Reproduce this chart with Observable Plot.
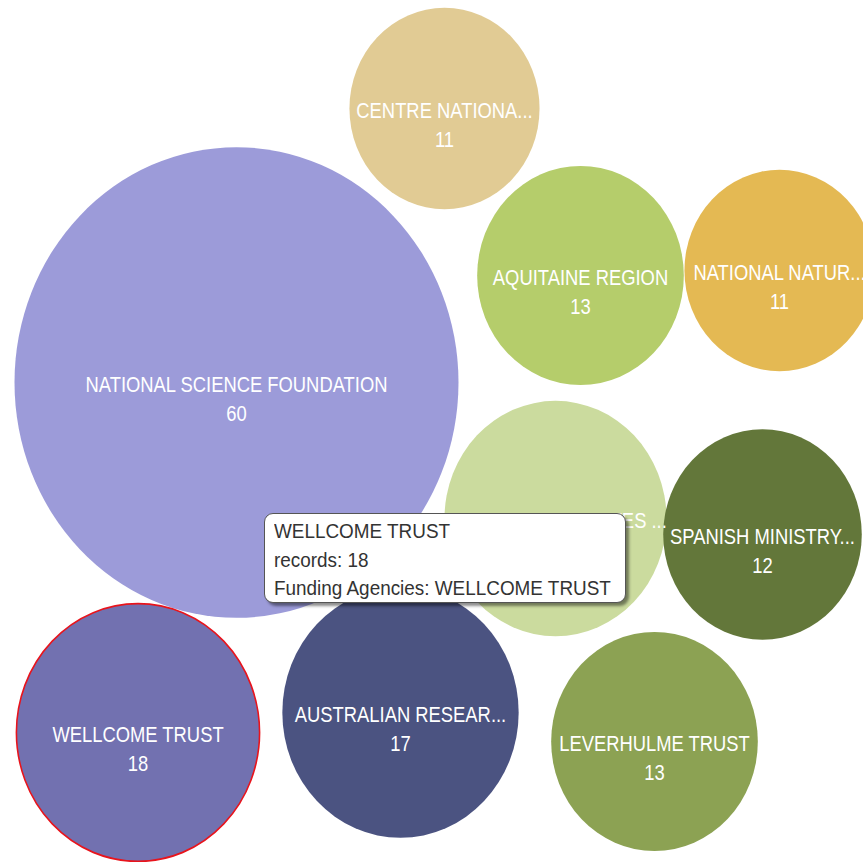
<!DOCTYPE html>
<html>
<head>
<meta charset="utf-8">
<script src="https://cdn.jsdelivr.net/npm/d3@7"></script>
<script src="https://cdn.jsdelivr.net/npm/@observablehq/plot@0.6"></script>
<style>
  html, body { margin: 0; padding: 0; background: #fff; }
  #wrap { position: relative; width: 863px; height: 862px; overflow: hidden; }
  #tip {
    position: absolute; left: 264px; top: 513px; width: 362px; height: 90px;
    box-sizing: border-box; border: 1.6px solid #555; border-radius: 9px; background: #fff;
    box-shadow: 3px 3px 3px rgba(0,0,0,0.45);
    font-family: "Liberation Sans", Arial, sans-serif; font-size: 20px; color: #333;
    padding: 3px 0 0 9px; white-space: nowrap;
  }
  #tip div { line-height: 28.5px; transform: scaleX(0.945); transform-origin: left center; }
</style>
</head>
<body>
<div id="wrap"><div id="chart"></div><div id="tip"></div></div>
<script>
// Data: funding agencies and their record counts
const agencies = [
  "NATIONAL SCIENCE FOUNDATION",
  "CENTRE NATIONAL DE LA RECHERCHE SCIENTIFIQUE",
  "AQUITAINE REGION",
  "NATIONAL NATURAL SCIENCE FOUNDATION OF CHINA",
  "NATIONAL INSTITUTES OF HEALTH",
  "SPANISH MINISTRY OF SCIENCE",
  "LEVERHULME TRUST",
  "AUSTRALIAN RESEARCH COUNCIL",
  "WELLCOME TRUST"
];
const labels = [
  "NATIONAL SCIENCE FOUNDATION",
  "CENTRE NATIONA...",
  "AQUITAINE REGION",
  "NATIONAL NATUR...",
  "NATIONAL INSTITUTES ...",
  "SPANISH MINISTRY...",
  "LEVERHULME TRUST",
  "AUSTRALIAN RESEAR...",
  "WELLCOME TRUST"
];
const records = [60, 11, 13, 11, 15, 12, 13, 17, 18];

// Bubble layout (packing positions, in layout units)
const layoutX = [236, 444, 580, 779, 555, 762, 654, 400, 137.5];
const layoutY = [382, 108, 275, 270, 518, 534, 741, 712, 732];

const palette = ["#9c9bd9", "#e1cb94", "#b5cd6b", "#e4b953", "#cbdb9e", "#63773a", "#8ca253", "#4b5381", "#7271b0"];
const selected = "WELLCOME TRUST";

const W = 863, H = 862, stretch = 1.06, Hp = H / stretch;
const data = agencies.map((a, i) => ({agency: a, label: labels[i], records: records[i], x: layoutX[i], y: layoutY[i]}));

const plot = Plot.plot({
  width: W, height: Hp, margin: 0,
  x: {domain: [0, W], range: [0, W], axis: null},
  y: {domain: [0, H], range: [0, Hp], axis: null},
  r: {type: "sqrt", domain: [0, 60], range: [0, 222]},
  color: {type: "ordinal", domain: agencies, range: palette},
  style: {background: "transparent", fontFamily: "'Liberation Sans', Arial, sans-serif", overflow: "hidden"},
  marks: [
    Plot.dot(data, {x: "x", y: "y", r: "records", fill: "agency", fillOpacity: 1}),
    Plot.dot(data.filter(d => d.agency === selected), {x: "x", y: "y", r: "records", stroke: "#e8141c", strokeWidth: 1.6, fill: "none"}),
    Plot.text(data, {x: "x", y: "y", text: "label", dy: 9 / stretch, fill: "white", fontSize: 20}),
    Plot.text(data, {x: "x", y: "y", text: d => String(d.records), dy: 38.5 / stretch, fill: "white", fontSize: 20})
  ]
});

plot.setAttribute("viewBox", `0 0 ${W} ${Hp}`);
plot.setAttribute("preserveAspectRatio", "none");
plot.setAttribute("width", W);
plot.setAttribute("height", H);
plot.style.width = W + "px";
plot.style.height = H + "px";
plot.style.maxWidth = "none";

// condense label glyphs horizontally
plot.querySelectorAll("text").forEach(t => {
  let tr = t.getAttribute("transform") || "";
  if (t.hasAttribute("x") || t.hasAttribute("y")) {
    const x = +t.getAttribute("x") || 0, y = +t.getAttribute("y") || 0;
    t.removeAttribute("x"); t.removeAttribute("y");
    tr = `translate(${x},${y}) ` + tr;
  }
  t.setAttribute("transform", tr + " scale(0.92,1)");
});

document.getElementById("chart").appendChild(plot);

// tooltip for the selected agency
const sel = data.find(d => d.agency === selected);
const tip = document.getElementById("tip");
[sel.agency, `records: ${sel.records}`, `Funding Agencies: ${sel.agency}`].forEach(s => {
  const div = document.createElement("div");
  div.textContent = s;
  tip.appendChild(div);
});
</script>
</body>
</html>
